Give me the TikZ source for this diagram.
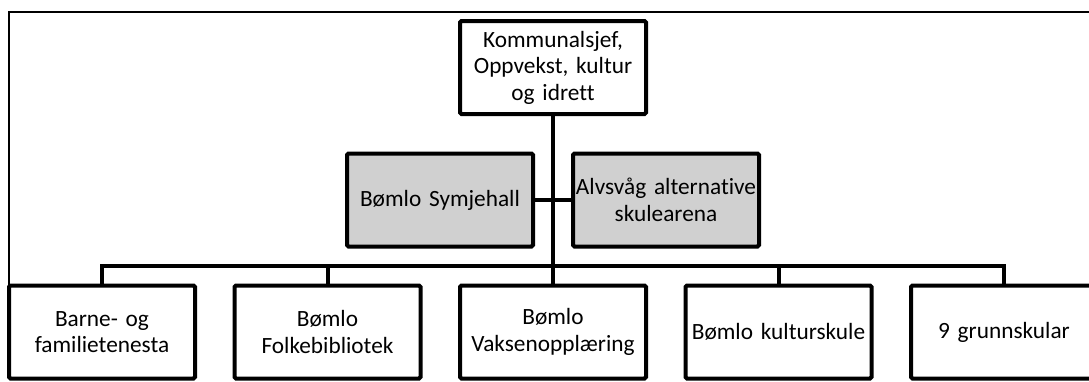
\documentclass[tikz,border=0pt]{standalone}
\usepackage{fontspec}
\setmainfont{Carlito}[Ligatures=CommonOff]
\usetikzlibrary{positioning}

\definecolor{boxgrey}{RGB}{208,208,208}

\tikzstyle {block} = [draw, line width=4pt, rounded corners=1.5pt, fill=white, minimum width=186pt, minimum height=93pt, inner sep=0pt, align=center, text width=186pt, font=\fontsize{23.3}{26.5}\selectfont]
\tikzstyle {greyblock} = [block, fill=boxgrey]
\tikzstyle {link} = [draw, line width=4pt]

\begin{document}
\begin{tikzpicture}[x=1pt, y=-1pt]
            \useasboundingbox (0,0) rectangle (1089,381);
            \clip (0,0) rectangle (1089,381);
            % frame
            \draw [line width=1.2pt] (1095,12) -| (9,300);
            \coordinate (bus) at (553,266);
            % top and side units
            \node [block] (chief) at (553,67.5) {Kommunalsjef,\\Oppvekst, kultur\\og idrett};
            \node [greyblock] (swim) at (440,200) {Bømlo Symjehall};
            \node [greyblock] (alvs) at (666,200) {Alvsvåg alternative\\skulearena};
            % units below
            \node [block] (family) at (102,332) {Barne- og\\familietenesta};
            \node [block] (library) at (327.5,332) {Bømlo\\Folkebibliotek};
            \node [block] (adult) at (553,332) {Bømlo\\Vaksenopplæring};
            \node [block] (culture) at (778.5,332) {Bømlo kulturskule};
            \node [block] (schools) at (1004,332) {9 grunnskular};
            % lines
            \draw [link] (chief) -- (adult);
            \draw [link] (swim) -- (alvs);
            \draw [link] (family.north) |- (bus) -| (schools.north);
            \draw [link] (library.north) -- (library.north |- bus);
            \draw [link] (culture.north) -- (culture.north |- bus);
        \end{tikzpicture}
\end{document}
